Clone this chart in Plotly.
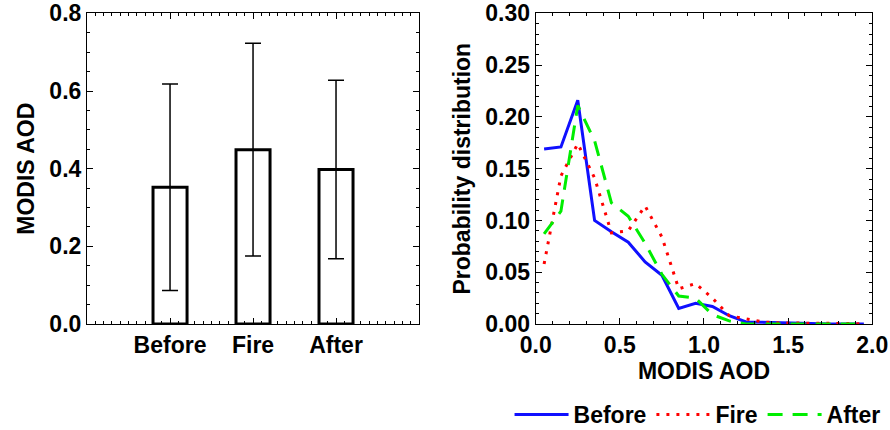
import plotly.graph_objects as go

# ---- data ----
categories = ["Before", "Fire", "After"]
category_pos = [1, 2, 3]
mean_aod = [0.352, 0.449, 0.398]
std_aod = [0.266, 0.274, 0.230]

aod_bins = [0.05, 0.15, 0.25, 0.35, 0.45, 0.55, 0.65, 0.75, 0.85, 0.95,
            1.05, 1.15, 1.25, 1.35, 1.45, 1.55, 1.65, 1.75, 1.85, 1.95]
before_pdf = [0.169, 0.171, 0.216, 0.100, 0.089, 0.079, 0.060, 0.047, 0.015, 0.020,
              0.017, 0.008, 0.002, 0.0015, 0.001, 0.0005, 0.0, 0.0, 0.0, 0.0]
fire_pdf = [0.058, 0.143, 0.174, 0.141, 0.088, 0.090, 0.114, 0.084, 0.034, 0.039,
            0.025, 0.008, 0.005, 0.002, 0.001, 0.001, 0.001, 0.0005, 0.0005, 0.0]
after_pdf = [0.087, 0.109, 0.211, 0.177, 0.117, 0.104, 0.078, 0.048, 0.027, 0.025,
             0.009, 0.003, 0.0, 0.0, 0.0, 0.0, 0.0, 0.0, 0.0, 0.0]

left_yticks = [0.0, 0.2, 0.4, 0.6, 0.8]
right_yticks = [0.00, 0.05, 0.10, 0.15, 0.20, 0.25, 0.30]
right_xticks = [0.0, 0.5, 1.0, 1.5, 2.0]

FONT = "Liberation Sans, Arial, Helvetica, sans-serif"
FS = 23

fig = go.Figure()

fig.add_trace(go.Bar(
    x=category_pos, y=mean_aod, width=0.41,
    marker=dict(color="white", line=dict(color="black", width=3)),
    error_y=dict(type="data", array=std_aod, visible=True, color="black",
                 thickness=1.5, width=8),
    showlegend=False, xaxis="x", yaxis="y",
))

fig.add_trace(go.Scatter(
    x=aod_bins, y=before_pdf, mode="lines", name="Before",
    line=dict(color="#1010ff", width=3), xaxis="x2", yaxis="y2",
))
fig.add_trace(go.Scatter(
    x=aod_bins, y=fire_pdf, mode="lines", name="Fire",
    line=dict(color="#ff0000", width=3, dash="3px,7px"), xaxis="x2", yaxis="y2",
))
fig.add_trace(go.Scatter(
    x=aod_bins, y=after_pdf, mode="lines", name="After",
    line=dict(color="#00ee00", width=3, dash="15px,10px"), xaxis="x2", yaxis="y2",
))

axis_common = dict(
    showline=True, linecolor="black", linewidth=1.2, mirror="ticks",
    ticks="inside", tickcolor="black", tickwidth=1, ticklen=6,
    showgrid=False, zeroline=False, automargin=False,
    tickfont=dict(family=FONT, size=FS, color="black", weight="bold"),
)

ydom = [0.2465, 0.969]
title_font = dict(family=FONT, size=FS, color="black", weight="bold")

fig.update_layout(
    width=890, height=430,
    margin=dict(l=0, r=0, t=0, b=0, autoexpand=False),
    paper_bgcolor="white", plot_bgcolor="white",
    font=dict(family=FONT, size=FS, color="black", weight="bold"),
    xaxis=dict(domain=[0.0978, 0.4708], range=[0, 4],
               tickmode="array", tickvals=category_pos, ticktext=categories,
               minor=dict(dtick=0.1, tick0=0, ticks="inside", ticklen=3, tickcolor="black"),
               **axis_common),
    yaxis=dict(domain=ydom, range=[0, 0.8], tickmode="array", tickvals=left_yticks,
               tickformat=".1f",
               minor=dict(dtick=0.05, tick0=0, ticks="inside", ticklen=3, tickcolor="black"),
               title=dict(text="MODIS AOD", font=title_font, standoff=8),
               **axis_common),
    xaxis2=dict(domain=[0.6019, 0.9801], range=[0, 2.0], anchor="y2",
                tickmode="array", tickvals=right_xticks, tickformat=".1f",
                minor=dict(dtick=0.1, tick0=0, ticks="inside", ticklen=3, tickcolor="black"),
                title=dict(text="MODIS AOD", font=title_font, standoff=0),
                **axis_common),
    yaxis2=dict(domain=ydom, range=[0, 0.30], anchor="x2",
                tickmode="array", tickvals=right_yticks, tickformat=".2f",
                minor=dict(dtick=0.01, tick0=0, ticks="inside", ticklen=3, tickcolor="black"),
                title=dict(text="Probability distribution", font=title_font, standoff=8),
                **axis_common),
    legend=dict(orientation="h", x=0.995, xanchor="right", y=0.036, yanchor="middle",
                font=dict(family=FONT, size=FS, color="black", weight="bold"),
                bgcolor="rgba(0,0,0,0)", itemwidth=54, tracegroupgap=0),
    showlegend=True,
)

fig.write_html("out.html", config={"displayModeBar": False},
               post_script="document.body.style.margin='0px';document.body.style.overflow='hidden';")
